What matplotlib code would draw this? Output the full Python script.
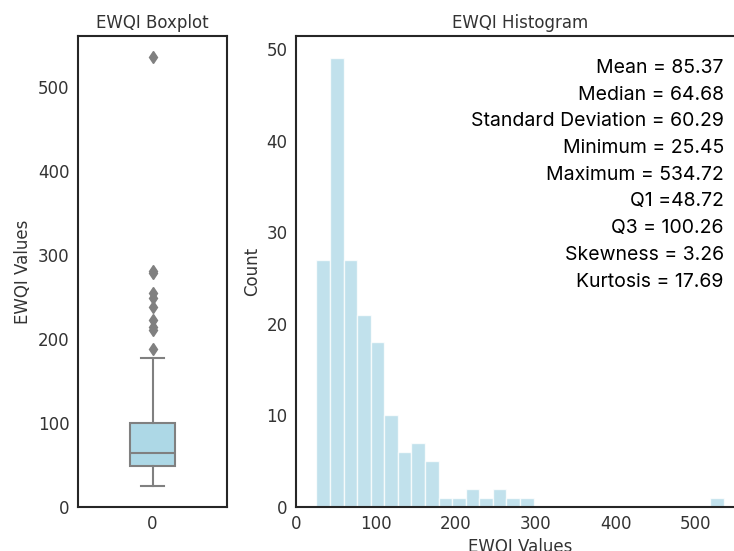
import numpy as np
import matplotlib
matplotlib.use("Agg")
import matplotlib.pyplot as plt

# EWQI summary statistics
stat_names = ["Mean", "Median", "Standard Deviation", "Minimum", "Maximum",
              "Q1", "Q3", "Skewness", "Kurtosis"]
stat_values = [85.37, 64.68, 60.29, 25.45, 534.72, 48.72, 100.26, 3.26, 17.69]

# Box plot components
box_q1 = 48.72
box_median = 64.68
box_q3 = 100.26
whisker_low = 25.45
whisker_high = 177.0
outliers = [188, 210, 214, 222, 238, 248, 254, 278, 281, 534.72]

# Histogram (30 equal-width bins between min and max)
ewqi_min = 25.45
ewqi_max = 534.72
bin_counts = [27, 49, 27, 21, 18, 10, 6, 7, 5, 1, 1, 2, 1, 2, 1, 1,
              0, 0, 0, 0, 0, 0, 0, 0, 0, 0, 0, 0, 0, 1]

EDGE = "#262626"
LABEL = "#333333"
BOX_FILL = "#add8e6"
LINE_GRAY = "#808080"

plt.rcParams["font.family"] = "DejaVu Sans"
plt.rcParams["font.size"] = 12

fig = plt.figure(figsize=(7.34, 5.51), dpi=100)
W, H = 734, 551

def px_axes(left, top, right, bottom):
    return fig.add_axes([left / W, 1 - bottom / H, (right - left) / W, (bottom - top) / H])

# ---- Boxplot ----
ax1 = px_axes(78, 36, 227, 507)
stats = [dict(med=box_median, q1=box_q1, q3=box_q3,
              whislo=whisker_low, whishi=whisker_high, fliers=outliers)]
ax1.bxp(stats, positions=[0], widths=0.3, patch_artist=True,
        boxprops=dict(facecolor=BOX_FILL, edgecolor=LINE_GRAY, linewidth=1.5),
        medianprops=dict(color=LINE_GRAY, linewidth=1.5),
        whiskerprops=dict(color=LINE_GRAY, linewidth=1.5),
        capprops=dict(color=LINE_GRAY, linewidth=1.5),
        flierprops=dict(marker="d", markerfacecolor=LINE_GRAY,
                        markeredgecolor=LINE_GRAY, markersize=6))
ax1.set_xlim(-0.5, 0.5)
span = ewqi_max - ewqi_min
ax1.set_ylim(ewqi_min - 0.05 * span, ewqi_max + 0.05 * span)
ax1.set_xticks([0])
ax1.set_xticklabels(["0"])
ax1.set_yticks([0, 100, 200, 300, 400, 500])
ax1.set_ylabel("EWQI Values", color=LABEL, fontsize=12)
ax1.set_title("EWQI Boxplot", color=LABEL, fontsize=12)

# ---- Histogram ----
ax2 = px_axes(296, 36, 744, 507)
edges = np.linspace(ewqi_min, ewqi_max, len(bin_counts) + 1)
ax2.bar(edges[:-1], bin_counts, width=np.diff(edges), align="edge",
        color=BOX_FILL, alpha=0.75, edgecolor="white", linewidth=1)
ax2.set_xlim(ewqi_min - 0.05 * span, ewqi_max + 0.05 * span)
ax2.set_ylim(0, max(bin_counts) * 1.05)
ax2.set_xticks([0, 100, 200, 300, 400, 500])
ax2.set_yticks([0, 10, 20, 30, 40, 50])
ax2.set_xlabel("EWQI Values", color=LABEL, fontsize=12, labelpad=3)
ax2.set_ylabel("Count", color=LABEL, fontsize=12)
ax2.set_title("EWQI Histogram", color=LABEL, fontsize=12)

lines = []
for name, val in zip(stat_names, stat_values):
    sep = " =" if name == "Q1" else " = "
    lines.append(f"{name}{sep}{val:.2f}")
ax2.text(0.955, 0.951, "\n".join(lines), transform=ax2.transAxes,
         ha="right", va="top", fontsize=14, family=["Inter", "DejaVu Sans"],
         color="black", linespacing=1.62, multialignment="right")

for ax in (ax1, ax2):
    for s in ax.spines.values():
        s.set_color(EDGE)
        s.set_linewidth(1.5)
    ax.tick_params(length=0, colors=LABEL, labelsize=12, pad=6)

fig.savefig("out.png", dpi=100)
